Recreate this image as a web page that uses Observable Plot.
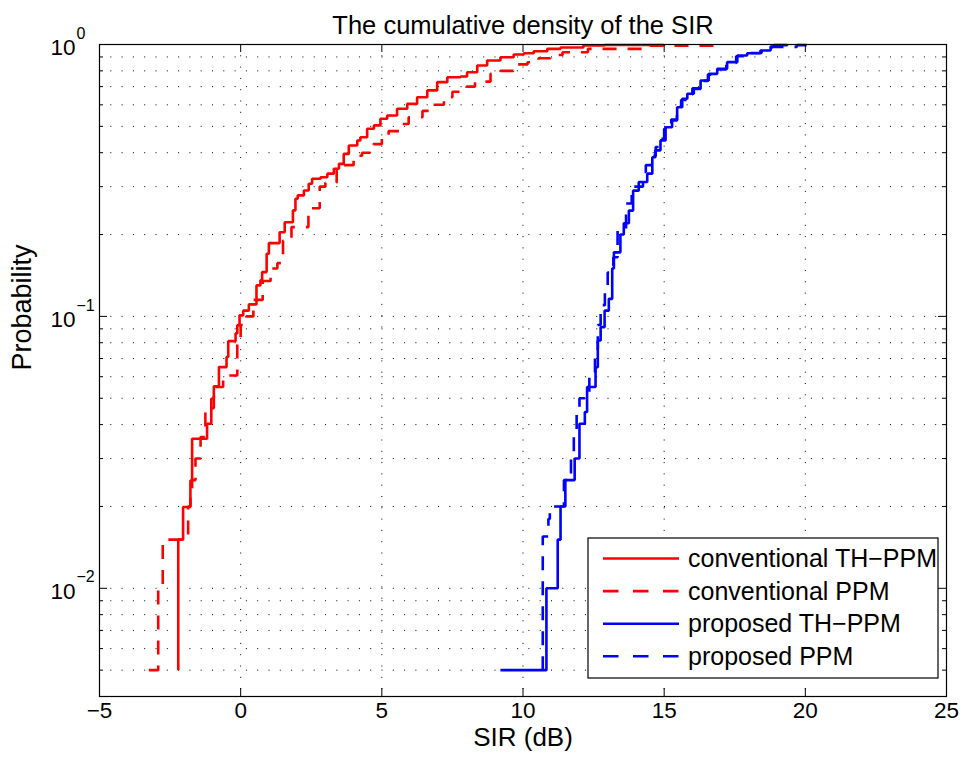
<!DOCTYPE html>
<html>
<head>
<meta charset="utf-8">
<script src="https://cdn.jsdelivr.net/npm/d3@7"></script>
<script src="https://cdn.jsdelivr.net/npm/@observablehq/plot@0.6"></script>
<style>
  html, body { margin: 0; padding: 0; background: #fff; }
  svg { display: block; }
</style>
</head>
<body>
<div id="chart"></div>
<script>
// ---- Data ----
const chartTitle = "The cumulative density of the SIR";
const xLabel = "SIR (dB)";
const yLabel = "Probability";

const xTicks = [-5, 0, 5, 10, 15, 20, 25];
const xGrid = [0, 5, 10, 15, 20];
const yMajor = [0.01, 0.1, 1];
const yMajorExp = ["\u22122", "\u22121", "0"];
const yMinor = [0.005, 0.006, 0.007, 0.008, 0.009,
                0.02, 0.03, 0.04, 0.05, 0.06, 0.07, 0.08, 0.09,
                0.2, 0.3, 0.4, 0.5, 0.6, 0.7, 0.8, 0.9];

const seriesNames = ["conventional TH\u2212PPM", "conventional PPM", "proposed TH\u2212PPM", "proposed PPM"];
const seriesColors = ["#ff0000", "#ff0000", "#0000ff", "#0000ff"];
const seriesDashed = [false, true, false, true];

// conventional TH-PPM (red solid)
const convThX = [-2.21, -2.21, -2.04, -1.78, -1.72, -1.19, -1.04, -0.95, -0.77, -0.50, -0.44, -0.18, -0.12, -0.04, 0.09, 0.29, 0.56, 0.70, 0.76, 0.92, 1.00, 1.38, 1.56, 1.85, 1.94, 2.02, 2.24, 2.41, 2.53, 2.83, 3.07, 3.30, 3.48, 3.65, 3.83, 4.13, 4.24, 4.48, 4.72, 4.95, 5.19, 5.54, 5.90, 6.25, 6.61, 6.96, 7.32, 7.79, 8.02, 8.38, 8.73, 9.20, 9.67, 10.03, 10.38, 10.86, 11.33, 12.14, 12.90, 15.00];
const convThP = [0.005, 0.0151, 0.0199, 0.0249, 0.0355, 0.0403, 0.0498, 0.0553, 0.0651, 0.0709, 0.0811, 0.0866, 0.0927, 0.1009, 0.105, 0.1107, 0.130, 0.1357, 0.1455, 0.170, 0.186, 0.204, 0.222, 0.2454, 0.271, 0.2786, 0.2906, 0.3076, 0.321, 0.325, 0.335, 0.349, 0.364, 0.396, 0.4254, 0.4436, 0.456, 0.490, 0.504, 0.533, 0.548, 0.580, 0.605, 0.640, 0.678, 0.727, 0.758, 0.763, 0.791, 0.837, 0.873, 0.898, 0.919, 0.929, 0.945, 0.964, 0.975, 0.991, 0.996, 1.0];

// conventional PPM (red dashed)
const convX = [-3.25, -2.92, -2.76, -1.86, -1.78, -1.72, -1.60, -1.42, -1.25, -0.95, -0.62, -0.12, 0.00, 0.20, 0.45, 0.78, 1.06, 1.30, 1.50, 1.80, 2.40, 2.80, 3.00, 3.40, 3.55, 4.00, 4.30, 4.70, 5.00, 5.24, 5.66, 5.95, 6.44, 6.80, 7.20, 7.50, 8.00, 8.30, 8.85, 9.20, 9.66, 10.16, 10.55, 10.97, 11.40, 12.30, 14.50, 16.80];
const convP = [0.005, 0.01, 0.0151, 0.02, 0.0225, 0.025, 0.03, 0.036, 0.046, 0.055, 0.0606, 0.08, 0.093, 0.1, 0.115, 0.135, 0.15, 0.157, 0.19, 0.213, 0.25, 0.30, 0.31, 0.345, 0.36, 0.39, 0.40, 0.43, 0.455, 0.48, 0.51, 0.54, 0.57, 0.60, 0.64, 0.67, 0.70, 0.73, 0.78, 0.80, 0.845, 0.86, 0.89, 0.915, 0.937, 0.964, 0.99, 1.0];

// proposed TH-PPM (blue solid)
const propThX = [9.20, 10.83, 11.23, 11.33, 11.50, 11.83, 12.00, 12.19, 12.27, 12.57, 12.65, 12.75, 12.89, 13.04, 13.16, 13.22, 13.45, 13.57, 13.75, 13.90, 14.10, 14.40, 14.58, 14.69, 14.87, 15.05, 15.28, 15.46, 15.64, 15.82, 16.05, 16.29, 16.58, 16.88, 17.23, 17.59, 17.94, 18.41, 18.77, 18.88, 19.36];
const propThP = [0.005, 0.01, 0.0151, 0.02, 0.025, 0.03, 0.0403, 0.0445, 0.055, 0.065, 0.0815, 0.0913, 0.105, 0.116, 0.15, 0.172, 0.20, 0.22, 0.245, 0.29, 0.312, 0.335, 0.385, 0.408, 0.444, 0.496, 0.526, 0.588, 0.632, 0.659, 0.687, 0.737, 0.78, 0.814, 0.861, 0.911, 0.929, 0.95, 0.983, 0.995, 1.0];

// proposed PPM (blue dashed)
const propX = [10.70, 10.70, 10.90, 10.95, 11.45, 11.70, 11.80, 11.90, 12.00, 12.35, 12.55, 12.65, 12.75, 12.90, 13.00, 13.20, 13.35, 13.65, 13.85, 14.25, 14.35, 14.55, 14.70, 14.85, 15.00, 15.25, 15.45, 15.60, 15.80, 16.00, 16.25, 16.55, 16.90, 17.20, 17.55, 17.95, 18.45, 18.80, 19.70, 20.05];
const propP = [0.005, 0.0155, 0.018, 0.02, 0.025, 0.03, 0.036, 0.045, 0.05, 0.06, 0.076, 0.093, 0.11, 0.13, 0.145, 0.165, 0.21, 0.26, 0.30, 0.34, 0.36, 0.39, 0.42, 0.45, 0.49, 0.53, 0.59, 0.625, 0.655, 0.69, 0.735, 0.775, 0.81, 0.855, 0.905, 0.93, 0.955, 0.98, 0.995, 1.0];

// ---- Build tables ----
const toRows = (xs, ps) => xs.map((x, i) => ({x, p: ps[i]}));
const series = [
  toRows(convThX, convThP),
  toRows(convX, convP),
  toRows(propThX, propThP),
  toRows(propX, propP)
];
const yLabelRows = yMajor.map((v, i) => ({v, e: yMajorExp[i]}));

const FONT = "'Liberation Sans', Arial, Helvetica, sans-serif";
const W = 965, H = 767, ML = 99, MR = 19, MT = 44, MB = 71;
const FW = W - ML - MR, FH = H - MT - MB;
const LW = 2.6;
const dash = "14,11";
const dotted = {stroke: "#000", strokeWidth: 1, strokeDasharray: "1,10.3"};

const fmtX = d => d < 0 ? "\u2212" + (-d) : String(d);

const lineMarks = series.map((rows, i) => Plot.line(rows, {
  x: "x", y: "p", curve: "step-after",
  stroke: seriesColors[i], strokeWidth: LW,
  strokeDasharray: seriesDashed[i] ? dash : null,
  strokeLinejoin: "miter", strokeLinecap: "butt"
}));

const plot = Plot.plot({
  width: W, height: H,
  marginLeft: ML, marginRight: MR, marginTop: MT, marginBottom: MB,
  style: {fontFamily: FONT, background: "#fff", color: "#000", overflow: "visible"},
  x: {domain: [-5, 25], axis: null},
  y: {type: "log", domain: [0.004, 1], axis: null},
  marks: [
    Plot.ruleX(xGrid, {x: d => d, ...dotted}),
    Plot.ruleY(yMinor.concat([0.01, 0.1]), {y: d => d, ...dotted}),
    ...lineMarks,
    // inside tick marks
    Plot.tickX(xTicks, {x: d => d, stroke: "#000", insetTop: FH - 8}),
    Plot.tickX(xTicks, {x: d => d, stroke: "#000", insetBottom: FH - 8}),
    Plot.tickY(yMajor, {y: d => d, stroke: "#000", insetRight: FW - 8}),
    Plot.tickY(yMajor, {y: d => d, stroke: "#000", insetLeft: FW - 8}),
    Plot.tickY(yMinor, {y: d => d, stroke: "#000", insetRight: FW - 4}),
    Plot.tickY(yMinor, {y: d => d, stroke: "#000", insetLeft: FW - 4}),
    Plot.frame({stroke: "#000", strokeWidth: 1.2}),
    // tick labels
    Plot.text(xTicks, {x: d => d, frameAnchor: "bottom", dy: 21, text: fmtX, fontSize: 22.5, fill: "#000"}),
    Plot.text(yLabelRows, {y: "v", frameAnchor: "left", dx: -24, dy: 3, textAnchor: "end",
      text: () => "10", fontSize: 22.5, fill: "#000"}),
    Plot.text(yLabelRows, {y: "v", frameAnchor: "left", dx: -23, dy: -11, textAnchor: "start",
      text: "e", fontSize: 16, fill: "#000"}),
    // title and axis labels
    Plot.text([chartTitle], {text: d => d, frameAnchor: "top", dy: -29, fontSize: 25.5, fill: "#000"}),
    Plot.text([xLabel], {text: d => d, frameAnchor: "bottom", dy: 49, fontSize: 26, fill: "#000"}),
    Plot.text([yLabel], {text: d => d, frameAnchor: "left", dx: -77, rotate: -90, fontSize: 27, fill: "#000"})
  ]
});

document.getElementById("chart").appendChild(plot);

// legend
const svg = d3.select(plot);
const lg = svg.append("g").attr("font-family", FONT).attr("text-anchor", "start");
const lx0 = 588, ly0 = 538, lw = 350, lh = 140, rowH = 32.6;
lg.append("rect").attr("x", lx0).attr("y", ly0).attr("width", lw).attr("height", lh)
  .attr("fill", "#fff").attr("stroke", "#000").attr("stroke-width", 1.2);
seriesNames.forEach((name, i) => {
  const cy = ly0 + 20.5 + i * rowH;
  lg.append("line").attr("x1", lx0 + 15).attr("x2", lx0 + 91).attr("y1", cy).attr("y2", cy)
    .attr("stroke", seriesColors[i]).attr("stroke-width", LW)
    .attr("stroke-dasharray", seriesDashed[i] ? "15.5,14.5" : null);
  lg.append("text").attr("x", lx0 + 100).attr("y", cy).attr("dy", "0.35em")
    .attr("text-anchor", "start")
    .attr("font-size", 25).attr("fill", "#000").text(name);
});
</script>
</body>
</html>
